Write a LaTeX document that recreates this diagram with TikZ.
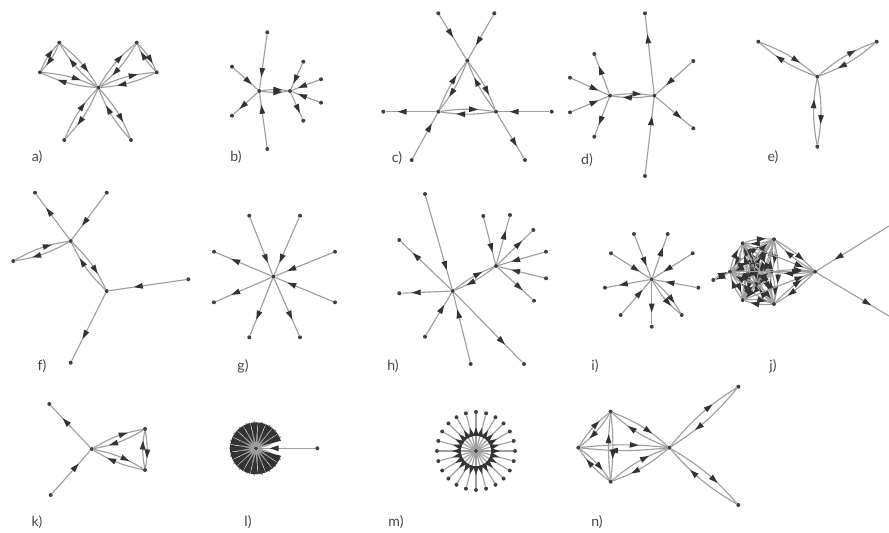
\documentclass[tikz,border=0pt]{standalone}
\usepackage{fontspec}
\setsansfont{Lato}
\usetikzlibrary{decorations.markings,calc}
\tikzset{
 vtx/.style={circle, fill=black!75, inner sep=0pt, minimum size=3.4pt},
 ed/.style={draw=black!38, line width=0.95pt, postaction=decorate,
   decoration={markings, mark=at position #1 with {\fill[black!80] (3.8pt,0pt) -- (-3.8pt,2.5pt) -- (-3.8pt,-2.5pt) -- cycle;}}},
 ed/.default=0.62,
 edW/.style={draw=black!38, line width=0.95pt, postaction=decorate,
   decoration={markings, mark=at position 0.45 with {\fill[black!80] (8.5pt,0pt) -- (-8.5pt,3.2pt) -- (-8.5pt,-3.2pt) -- cycle;}}},
 lens/.style={draw=black!38, line width=0.95pt},
 lbl/.style={font=\sffamily\fontsize{12}{12}\selectfont, text=black!72, inner sep=0pt}
}
\newcommand\edg[3][0.62]{\draw[ed=#1] (#2) -- (#3);}
\newcommand\prr[3][10]{\draw[ed] (#2) to[bend left=#1] (#3); \draw[ed] (#3) to[bend left=#1] (#2);}
\newcommand\two[3][10]{\draw[ed] (#2) to[bend left=#1] (#3); \draw[ed] (#2) to[bend right=#1] (#3);}
\begin{document}
\begin{tikzpicture}[x=0.03cm,y=-0.03cm]
\useasboundingbox[fill=white] (0,0) rectangle (889,533);
% ---------- a)
\node[vtx] (a0) at (98.3,87.7) {};
\node[vtx] (a1) at (59.3,42.7) {};
\node[vtx] (a2) at (40,72.3) {};
\node[vtx] (a3) at (136.7,42.7) {};
\node[vtx] (a4) at (156.7,72.3) {};
\node[vtx] (a5) at (64.3,140) {};
\node[vtx] (a6) at (131,140) {};
\prr{a0}{a1} \prr{a0}{a2} \prr{a1}{a2} \prr{a0}{a3} \prr{a0}{a4} \prr{a3}{a4} \prr{a0}{a5} \prr{a0}{a6}
\node[lbl] (la) at (37,157) {a)};
% ---------- b)
\node[vtx] (b1) at (259.3,91) {};
\node[vtx] (b2) at (290,91) {};
\node[vtx] (b3) at (267.3,32.3) {};
\node[vtx] (b4) at (267.3,149) {};
\node[vtx] (b5) at (232,66.7) {};
\node[vtx] (b6) at (232,115.7) {};
\node[vtx] (b7) at (303.3,61.7) {};
\node[vtx] (b8) at (321,79.3) {};
\node[vtx] (b9) at (321,102.7) {};
\node[vtx] (b10) at (303.3,120.7) {};
\edg[0.7]{b3}{b1} \edg[0.7]{b4}{b1} \edg{b5}{b1} \edg{b1}{b6}
\two[8]{b1}{b2}
\edg{b7}{b2} \edg{b8}{b2} \edg{b9}{b2} \edg{b2}{b10}
\node[lbl] (lb) at (236,157) {b)};
% ---------- c)
\node[vtx] (c1) at (438.3,13.3) {};
\node[vtx] (c2) at (494.3,13.3) {};
\node[vtx] (c3) at (467.3,60.7) {};
\node[vtx] (c4) at (438.3,111.7) {};
\node[vtx] (c5) at (496,111.7) {};
\node[vtx] (c6) at (383.3,111.7) {};
\node[vtx] (c7) at (551.7,111.7) {};
\node[vtx] (c8) at (411.7,160) {};
\node[vtx] (c9) at (525,160) {};
\edg[0.42]{c1}{c3} \edg[0.6]{c2}{c3}
\prr[8]{c3}{c4} \prr[8]{c3}{c5} \prr[8]{c4}{c5}
\edg[0.67]{c4}{c6} \edg[0.69]{c7}{c5} \edg[0.69]{c8}{c4} \edg[0.65]{c5}{c9}
\node[lbl] (lc) at (397,158) {c)};
% ---------- d)
\node[vtx] (d1) at (610,95.7) {};
\node[vtx] (d2) at (654.3,95.7) {};
\node[vtx] (d3) at (645,13.3) {};
\node[vtx] (d4) at (645,176) {};
\node[vtx] (d5) at (693.3,61) {};
\node[vtx] (d6) at (693.3,128.3) {};
\node[vtx] (d7) at (594.3,54) {};
\node[vtx] (d8) at (570,77.7) {};
\node[vtx] (d9) at (570,112.3) {};
\node[vtx] (d10) at (594.3,136.7) {};
\edg{d1}{d7} \edg{d8}{d1} \edg{d9}{d1} \edg{d1}{d10}
\prr[8]{d1}{d2}
\edg[0.7]{d2}{d3} \edg[0.7]{d4}{d2} \edg{d5}{d2} \edg{d2}{d6}
\node[lbl] (ld) at (587,160) {d)};
% ---------- e)
\node[vtx] (e0) at (817.3,76.7) {};
\node[vtx] (e1) at (758.3,41.7) {};
\node[vtx] (e2) at (876.7,41.7) {};
\node[vtx] (e3) at (817.3,146.7) {};
\prr{e0}{e1} \prr{e0}{e2} \prr{e0}{e3}
\node[lbl] (le) at (773,157) {e)};
% ---------- f)
\node[vtx] (f1) at (70.7,241) {};
\node[vtx] (f2) at (35,192.7) {};
\node[vtx] (f3) at (106.7,192.7) {};
\node[vtx] (f4) at (13.3,261) {};
\node[vtx] (f5) at (106.7,291) {};
\node[vtx] (f6) at (188.3,279.3) {};
\node[vtx] (f7) at (70.7,362.7) {};
\edg{f1}{f2} \edg{f3}{f1} \prr{f1}{f4} \prr{f1}{f5} \edg{f6}{f5} \edg{f5}{f7}
\node[lbl] (lf) at (42,366) {f)};
% ---------- g)
\node[vtx] (g0) at (273.3,276.7) {};
\node[vtx] (g1) at (249.3,215.7) {};
\node[vtx] (g2) at (300,215.7) {};
\node[vtx] (g3) at (335,251.7) {};
\node[vtx] (g4) at (335,302.3) {};
\node[vtx] (g5) at (300,337.3) {};
\node[vtx] (g6) at (249.3,337.3) {};
\node[vtx] (g7) at (214,302.3) {};
\node[vtx] (g8) at (214,251.7) {};
\edg[0.72]{g1}{g0} \edg[0.72]{g2}{g0} \edg[0.72]{g3}{g0} \edg[0.72]{g4}{g0}
\edg[0.65]{g0}{g5} \edg[0.65]{g0}{g6} \edg[0.65]{g0}{g7} \edg[0.65]{g0}{g8}
\node[lbl] (lg) at (243,366) {g)};
% ---------- h)
\node[vtx] (h1) at (452.7,291) {};
\node[vtx] (h2) at (496,266) {};
\node[vtx] (h3) at (425,194) {};
\node[vtx] (h4) at (399.3,240) {};
\node[vtx] (h5) at (399.3,293.3) {};
\node[vtx] (h6) at (425,336.7) {};
\node[vtx] (h7) at (470.7,364) {};
\node[vtx] (h8) at (524,364) {};
\node[vtx] (h9) at (483.3,216) {};
\node[vtx] (h10) at (510,215) {};
\node[vtx] (h11) at (533.3,230) {};
\node[vtx] (h12) at (546,251.7) {};
\node[vtx] (h13) at (546,278.3) {};
\node[vtx] (h14) at (534,300.7) {};
\edg[0.75]{h3}{h1} \edg[0.7]{h1}{h4} \edg[0.7]{h1}{h5} \edg{h6}{h1} \edg[0.7]{h7}{h1} \edg[0.7]{h1}{h8}
\prr[8]{h1}{h2}
\edg[0.65]{h9}{h2} \edg{h2}{h10} \edg{h2}{h11} \edg{h12}{h2} \edg{h13}{h2} \edg{h2}{h14}
\node[lbl] (lh) at (393,366) {h)};
% ---------- i)
\node[vtx] (i0) at (651.7,279.3) {};
\node[vtx] (i1) at (634,234) {};
\node[vtx] (i2) at (667.7,234) {};
\node[vtx] (i3) at (692.7,253.3) {};
\node[vtx] (i4) at (698.3,287.7) {};
\node[vtx] (i5) at (681.7,315) {};
\node[vtx] (i6) at (651.7,326.7) {};
\node[vtx] (i7) at (620.7,315) {};
\node[vtx] (i8) at (605,287.7) {};
\node[vtx] (i9) at (611,253.3) {};
\edg{i1}{i0} \edg{i0}{i2} \edg{i3}{i0} \edg{i4}{i0} \two[10]{i0}{i5}
\edg{i0}{i6} \edg{i7}{i0} \edg{i0}{i8} \edg{i9}{i0}
\node[lbl] (li) at (595,366) {i)};
% ---------- j)
\node[vtx] (jA) at (742.7,243.3) {};
\node[vtx] (jB) at (774,239.3) {};
\node[vtx] (jC) at (730,271.7) {};
\node[vtx] (jD) at (771.7,271.7) {};
\node[vtx] (jE) at (742.7,300) {};
\node[vtx] (jF) at (774,304) {};
\node[vtx] (jG) at (752,262) {};
\node[vtx] (jK) at (756,284) {};
\node[vtx] (jH) at (815,271.7) {};
\node[vtx] (jX) at (713.3,280) {};
\coordinate (jT) at (889,226);
\coordinate (jR) at (889,316);
\foreach \u/\v in {jA/jB,jA/jC,jA/jD,jA/jE,jA/jF,jB/jC,jB/jD,jB/jE,jB/jF,jC/jD,jC/jE,jC/jF,jD/jE,jD/jF,jE/jF,jG/jA,jG/jB,jG/jC,jG/jD,jG/jE,jG/jF,jK/jA,jK/jB,jK/jC,jK/jD,jK/jE,jK/jF,jG/jK}{\prr[12]{\u}{\v}}
\prr[8]{jB}{jH} \prr[8]{jD}{jH} \prr[8]{jF}{jH}
\edg[0.8]{jA}{jH} \edg[0.8]{jE}{jH} \edg[0.8]{jC}{jH}
\prr[10]{jC}{jX}
\edg[0.7]{jT}{jH} \edg[0.7]{jH}{jR}
\node[lbl] (lj) at (773,366) {j)};
% ---------- k)
\node[vtx] (k0) at (91.7,449) {};
\node[vtx] (k1) at (49.3,404) {};
\node[vtx] (k2) at (50.7,495) {};
\node[vtx] (k3) at (145,429) {};
\node[vtx] (k4) at (145,470) {};
\edg{k0}{k1} \edg{k2}{k0} \prr{k0}{k3} \prr{k0}{k4} \prr{k3}{k4}
\node[lbl] (lk) at (37,522) {k)};
% ---------- l)
\node[vtx] (lcen) at (256,448.3) {};
\node[vtx] (lR) at (317.3,448.3) {};
\foreach \i in {0,...,18}{
  \coordinate (ls\i) at ($(lcen)+({25+\i*310/18}:27)$);
  \draw[lens] (lcen) to[bend left=14] (ls\i);
  \draw[lens] (lcen) to[bend right=14] (ls\i);
}
\foreach \i in {0,...,18}{
  \draw[edW] (ls\i) -- (lcen);
}
\edg[0.72]{lR}{lcen}
\node[lbl] (ll) at (248,522) {l)};
% ---------- m)
\node[vtx] (m0) at (476,451) {};
\foreach \i in {1,...,24}{
  \node[vtx] (m\i) at ($(m0)+(\i*15:39)$) {};
  \draw[ed=0.5] (m0) -- (m\i);
}
\node[lbl] (lm) at (396,522) {m)};
% ---------- n)
\node[vtx] (nL) at (578.3,447.7) {};
\node[vtx] (nT) at (610.7,411.7) {};
\node[vtx] (nB) at (610.7,481.7) {};
\node[vtx] (nH) at (669.3,447.7) {};
\node[vtx] (nTR) at (738.3,386.7) {};
\node[vtx] (nBR) at (738.3,505) {};
\prr{nL}{nT} \prr{nL}{nB} \prr[6]{nT}{nB} \prr[6]{nL}{nH} \prr{nT}{nH} \prr{nB}{nH}
\prr[9]{nH}{nTR} \prr[9]{nH}{nBR}
\node[lbl] (ln) at (597,522) {n)};
\end{tikzpicture}
\end{document}
